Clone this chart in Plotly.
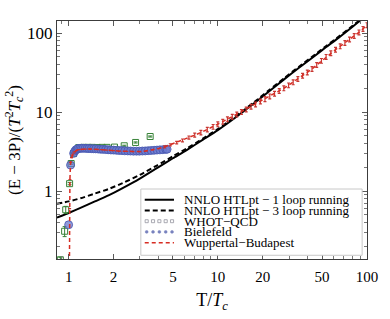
import plotly.graph_objects as go

# ---------------- data ----------------
htl1_T = [0.835, 0.9, 1.0, 1.2, 1.5, 1.85, 2.3, 3.0, 3.93, 5.0, 6.18, 8.0, 10, 13, 17.5, 22, 27.8, 35, 45, 53, 65, 80, 88, 100]
htl1_v = [0.46, 0.487, 0.528, 0.611, 0.739, 0.88, 1.09, 1.44, 1.97, 2.6, 3.3, 4.5, 5.9, 8.4, 12.9, 18.2, 25.9, 36.3, 52, 66, 88, 120, 139, 166]

htl3_T = [0.835, 1.0, 1.2, 1.5, 1.85, 2.3, 3.0, 3.93, 5.0, 6.18, 8.0, 10, 13, 17.5, 22, 27.8, 35, 45, 53, 65, 80, 88, 100]
htl3_v = [0.69, 0.74, 0.81, 0.93, 1.06, 1.26, 1.6, 2.12, 2.75, 3.45, 4.65, 6.1, 8.65, 13.3, 18.8, 26.7, 37.5, 53.5, 68, 91, 123, 142, 170]

whot_T = [0.88, 0.94, 0.956, 1.015, 1.04, 1.078, 1.168, 1.259, 1.351, 1.441, 1.554, 1.676, 1.807, 2.03, 2.358, 2.81, 3.52]
whot_v = [0.135, 0.31, 0.58, 1.24, 2.23, 2.98, 3.55, 3.57, 3.57, 3.57, 3.56, 3.57, 3.57, 3.6, 3.74, 4.12, 4.9]
whot_e = [0.01, 0.045, 0.06, 0.04, 0.05, 0.05, 0.05, 0.05, 0.05, 0.05, 0.05, 0.05, 0.05, 0.05, 0.06, 0.07, 0.08]

bf_T = [1.0, 1.03, 1.08, 1.1, 1.12, 1.14, 1.16, 1.19, 1.22, 1.25, 1.29, 1.33, 1.37, 1.42, 1.47, 1.52, 1.58,
        1.64, 1.7, 1.77, 1.84, 1.92, 2.0, 2.09, 2.18, 2.28, 2.38, 2.49, 2.6, 2.72, 2.85, 2.98, 3.12, 3.26,
        3.41, 3.57, 3.74, 3.91, 4.09, 4.28, 4.48, 4.57]
bf_v = [0.374, 2.13, 3.0, 3.2, 3.33, 3.4, 3.45, 3.47, 3.48, 3.48, 3.47, 3.46, 3.45, 3.44, 3.43, 3.42, 3.4,
        3.38, 3.37, 3.35, 3.33, 3.31, 3.3, 3.28, 3.26, 3.25, 3.23, 3.22, 3.21, 3.2, 3.2, 3.2, 3.21, 3.22,
        3.24, 3.26, 3.28, 3.3, 3.32, 3.34, 3.37, 3.38]

wb_T = [1.012, 1.015, 1.02, 1.03, 1.045, 1.06, 1.08, 1.1, 1.13, 1.17, 1.22, 1.3, 1.4, 1.5, 1.65, 1.8, 2.0,
        2.2, 2.45, 2.7, 3.0, 3.3, 3.65, 4.0, 4.4, 4.8, 5.3, 5.8, 6.4, 7.0, 7.7, 8.5, 9.3,
        10.0, 10.8, 11.6, 12.5, 13.4, 14.4, 15.5, 16.7, 17.9, 19.3, 20.7, 22.3, 24.0, 25.8, 27.7, 29.8,
        32.0, 34.4, 37.0, 39.8, 42.8, 46.0, 49.5, 53.2, 57.2, 61.5, 66.1, 71.1, 76.4, 82.1, 88.3, 94.0, 100]
wb_v = [0.1, 0.6, 1.4, 2.3, 2.65, 2.85, 3.02, 3.15, 3.27, 3.35, 3.38, 3.4, 3.4, 3.38, 3.35, 3.3, 3.25,
        3.2, 3.17, 3.15, 3.16, 3.22, 3.32, 3.45, 3.62, 3.85, 4.1, 4.38, 4.75, 5.1, 5.5, 6.0, 6.5,
        7.0, 7.55, 8.1, 8.75, 9.35, 10.0, 10.8, 11.7, 12.5, 13.6, 14.6, 15.8, 17.1, 18.5, 20.0, 21.8,
        23.8, 26.2, 28.8, 31.8, 35.2, 39.5, 44.5, 50.0, 55.5, 61.5, 68.0, 75.0, 83.0, 92.0, 102, 113, 126]
wb_e = [0, 0, 0, 0, 0, 0, 0, 0, 0, 0, 0, 0, 0, 0, 0, 0, 0,
        0, 0, 0, 0, 0, 0, 0, 0.1, 0.12, 0.15, 0.18, 0.22, 0.3, 0.35, 0.4, 0.45,
        0.49, 0.53, 0.57, 0.61, 0.65, 0.7, 0.76, 0.82, 0.88, 0.95, 1.02, 1.1, 1.2, 1.3, 1.4, 1.5,
        1.65, 1.8, 2.0, 2.2, 2.45, 2.75, 3.1, 3.5, 3.9, 4.3, 4.75, 5.25, 5.8, 6.4, 7.1, 7.9, 8.8]

legend_names = ["NNLO HTLpt \u2212 1 loop running", "NNLO HTLpt \u2212 3 loop running",
                "WHOT\u2212QCD", "Bielefeld", "Wuppertal\u2212Budapest"]

x_major = [1, 2, 5, 10, 20, 50, 100]
x_labels = ["1", "2", "5", "10", "20", "50", "100"]
x_minor = [0.9, 3, 4, 6, 7, 8, 9, 30, 40, 60, 70, 80, 90]
y_major = [1, 10, 100]
y_labels = ["1", "10", "100"]
y_minor = [0.2, 0.3, 0.4, 0.5, 0.6, 0.7, 0.8, 0.9, 2, 3, 4, 5, 6, 7, 8, 9, 20, 30, 40, 50, 60, 70, 80, 90]

# ---------------- styles ----------------
serif = "Liberation Serif"
C_WHOT = "rgb(55,130,55)"
C_BF_FILL = "rgba(105,120,205,0.75)"
C_BF_LINE = "rgb(70,85,175)"
C_WB = "rgb(215,45,35)"

W, H = 390, 319
ML, MR, MT, MB = 57, 15, 21, 43

fig = go.Figure()
fig.add_trace(go.Scatter(
    x=htl1_T, y=htl1_v, mode="lines", name=legend_names[0],
    line=dict(color="black", width=2, shape="spline", smoothing=0.6)))
fig.add_trace(go.Scatter(
    x=htl3_T, y=htl3_v, mode="lines", name=legend_names[1],
    line=dict(color="black", width=2, dash="5px,3px", shape="spline", smoothing=0.6)))
fig.add_trace(go.Scatter(
    x=whot_T, y=whot_v, mode="markers", name=legend_names[2],
    marker=dict(symbol="square-open", size=6, color=C_WHOT, line=dict(width=1)),
    error_y=dict(type="data", array=whot_e, color=C_WHOT, thickness=1, width=2)))
fig.add_trace(go.Scatter(
    x=bf_T, y=bf_v, mode="markers", name=legend_names[3],
    marker=dict(symbol="circle", size=8, color=C_BF_FILL, line=dict(color=C_BF_LINE, width=0.8))))
fig.add_trace(go.Scatter(
    x=wb_T, y=wb_v, mode="lines", name=legend_names[4],
    line=dict(color=C_WB, width=1.5, dash="4px,3px"),
    error_y=dict(type="data", array=wb_e, color="rgb(200,55,50)", thickness=1.2, width=1.5)))

axis_common = dict(
    showgrid=False, zeroline=False, showline=True, linecolor="rgb(60,60,60)", linewidth=1,
    mirror="allticks", ticks="inside", ticklen=5, tickwidth=1, tickcolor="rgb(90,90,90)",
)
fig.update_xaxes(
    type="log", range=[-0.078, 2.0], tickvals=x_major, ticktext=x_labels,
    tickfont=dict(family=serif, size=15, color="black"), ticklabelstandoff=4,
    minor=dict(tickvals=x_minor, ticks="inside", ticklen=3, tickcolor="rgb(120,120,120)"),
    title=dict(text="T/<i>T</i><sub><i>c</i></sub>", font=dict(family=serif, size=18, color="black"), standoff=9),
    **axis_common)
fig.update_yaxes(
    type="log", range=[-0.86, 2.152], tickvals=y_major, ticktext=y_labels,
    tickfont=dict(family=serif, size=17, color="black"),
    minor=dict(tickvals=y_minor, ticks="inside", ticklen=3, tickcolor="rgb(120,120,120)"),
    title=dict(text="(E \u2212 3P)/(<i>T</i><sup>2</sup><i>T</i><sub><i>c</i></sub><sup>2</sup>)",
               font=dict(family=serif, size=17, color="black"), standoff=2),
    **axis_common)

# ---------------- hand-built compact legend (Mathematica style) ----------------
def PX(px):
    return (px - ML) / (W - ML - MR)

def PY(py):
    return (H - MB - py) / (H - MT - MB)

shapes = []
annotations = []
box = dict(x0=143, x1=370, y0=201, y1=272)
shapes.append(dict(type="rect", xref="paper", yref="paper",
                   x0=PX(box["x0"]), x1=PX(box["x1"]), y0=PY(box["y1"]), y1=PY(box["y0"]),
                   fillcolor="white", line=dict(color="rgb(200,200,200)", width=1), layer="above"))
rows = [212.5, 224, 235.5, 247, 258.5]
sx0, sx1, tx = 147, 177, 185
for i, name in enumerate(legend_names):
    yy = rows[i]
    if i in (0, 1, 4):
        col = "black" if i < 2 else C_WB
        dash = "solid" if i == 0 else ("5px,3px" if i == 1 else "4px,3px")
        shapes.append(dict(type="line", xref="paper", yref="paper",
                           x0=PX(sx0), x1=PX(sx1), y0=PY(yy), y1=PY(yy),
                           line=dict(color=col, width=2 if i < 2 else 1.5, dash=dash), layer="above"))
    else:
        for k in range(5):
            cx = 149 + k * 6.5
            if i == 2:
                shapes.append(dict(type="rect", xref="paper", yref="paper",
                                   x0=PX(cx - 1.6), x1=PX(cx + 1.6), y0=PY(yy + 1.6), y1=PY(yy - 1.6),
                                   line=dict(color="rgb(150,150,160)", width=0.8), layer="above"))
            else:
                shapes.append(dict(type="circle", xref="paper", yref="paper",
                                   x0=PX(cx - 1.5), x1=PX(cx + 1.5), y0=PY(yy + 1.5), y1=PY(yy - 1.5),
                                   fillcolor="rgb(120,130,190)", line=dict(color="rgb(120,130,190)", width=0.5),
                                   layer="above"))
    annotations.append(dict(text=name, xref="paper", yref="paper", x=PX(tx), y=PY(yy),
                            xanchor="left", yanchor="middle", showarrow=False,
                            font=dict(family=serif, size=13, color="black")))

fig.update_layout(
    width=W, height=H,
    margin=dict(l=ML, r=MR, t=MT, b=MB),
    paper_bgcolor="white", plot_bgcolor="white",
    showlegend=False,
    shapes=shapes, annotations=annotations,
)

fig.write_html("out.html", config={"displayModeBar": False},
               post_script="document.body.style.margin='0px';")
